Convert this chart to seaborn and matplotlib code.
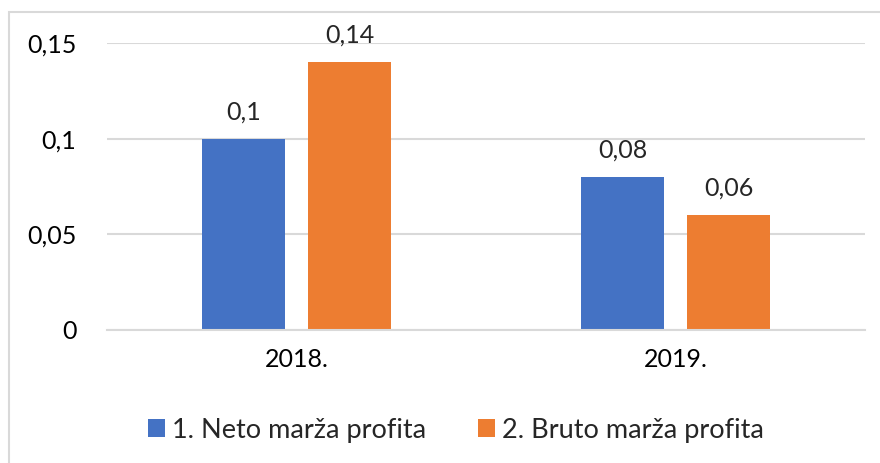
import pandas as pd
import matplotlib
matplotlib.use("Agg")
import matplotlib.pyplot as plt
import seaborn as sns
from matplotlib.patches import Rectangle

years = ["2018.", "2019."]
series = ["1. Neto marža profita", "2. Bruto marža profita"]
neto = [0.10, 0.08]
bruto = [0.14, 0.06]
value_labels = {series[0]: ["0,1", "0,08"], series[1]: ["0,14", "0,06"]}
y_ticks = [0, 0.05, 0.10, 0.15]
y_tick_labels = ["0", "0,05", "0,1", "0,15"]
colors = ["#4472C4", "#ED7D31"]

df = pd.DataFrame({
    "year": years * 2,
    "series": [series[0]] * 2 + [series[1]] * 2,
    "value": neto + bruto,
})

sns.set_theme(style="white")
plt.rcParams["font.family"] = ["Lato", "DejaVu Sans"]
fs = 18

fig = plt.figure(figsize=(8.8, 4.63), dpi=100)
ax = fig.add_axes([0.1216, 0.2873, 0.8614, 0.6198])

sns.barplot(data=df, x="year", y="value", hue="series", palette=colors,
            width=0.56, gap=0.214, saturation=1, linewidth=0, ax=ax, legend=True)

ax.set_xlim(-0.5, 1.5)
ax.set_ylim(0, 0.15)
ax.set_yticks(y_ticks)
ax.set_yticklabels(y_tick_labels)
ax.yaxis.grid(True, color="#D9D9D9", linewidth=1.5)
ax.set_axisbelow(True)
for s in ["left", "right", "top"]:
    ax.spines[s].set_visible(False)
ax.spines["bottom"].set_color("#D9D9D9")
ax.spines["bottom"].set_linewidth(1.5)
ax.tick_params(axis="y", length=0, pad=22, labelsize=fs, labelcolor="#000000")
ax.tick_params(axis="x", length=0, pad=13, labelsize=fs, labelcolor="#000000")
ax.set_xlabel("")
ax.set_ylabel("")

for cont, name in zip(ax.containers, series):
    ax.bar_label(cont, labels=value_labels[name], padding=11, fontsize=fs)

handles, labels = ax.get_legend_handles_labels()
ax.legend_.remove()
fig.legend(handles, labels, loc="center", bbox_to_anchor=(0.518, 0.071), ncol=2,
           frameon=False, fontsize=19.5, handlelength=0.65, handleheight=0.65,
           handletextpad=0.25, columnspacing=1.9)

fig.patches.append(Rectangle((9 / 880, -0.1), 1.2, 1 - 12 / 463 + 0.1,
                             transform=fig.transFigure, fill=False,
                             edgecolor="#D9D9D9", linewidth=1.5))

fig.savefig("out.png", dpi=100)
